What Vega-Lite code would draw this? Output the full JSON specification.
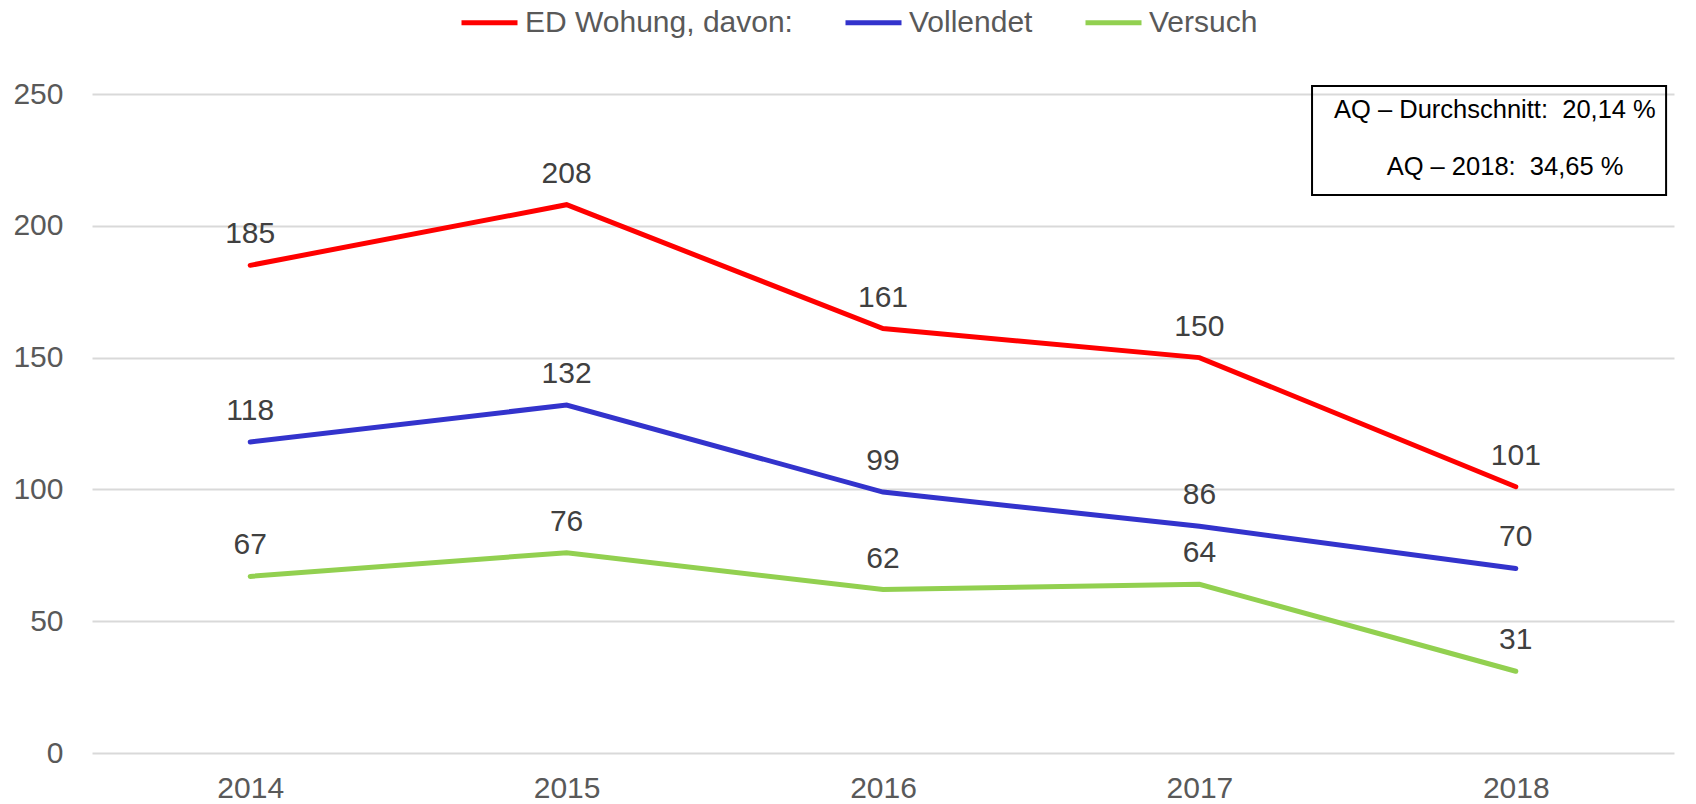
{
  "$schema": "https://vega.github.io/schema/vega-lite/v6.json",
  "width": 1582,
  "height": 659,
  "autosize": {"type": "none"},
  "padding": {"left": 92, "top": 94, "right": 22, "bottom": 51},
  "background": "white",
  "config": {
    "view": {"stroke": null},
    "font": "Liberation Sans"
  },
  "datasets": {
    "main": [
      {"year": 2014, "series": "ED Wohung, davon:", "value": 185},
      {"year": 2015, "series": "ED Wohung, davon:", "value": 208},
      {"year": 2016, "series": "ED Wohung, davon:", "value": 161},
      {"year": 2017, "series": "ED Wohung, davon:", "value": 150},
      {"year": 2018, "series": "ED Wohung, davon:", "value": 101},
      {"year": 2014, "series": "Vollendet", "value": 118},
      {"year": 2015, "series": "Vollendet", "value": 132},
      {"year": 2016, "series": "Vollendet", "value": 99},
      {"year": 2017, "series": "Vollendet", "value": 86},
      {"year": 2018, "series": "Vollendet", "value": 70},
      {"year": 2014, "series": "Versuch", "value": 67},
      {"year": 2015, "series": "Versuch", "value": 76},
      {"year": 2016, "series": "Versuch", "value": 62},
      {"year": 2017, "series": "Versuch", "value": 64},
      {"year": 2018, "series": "Versuch", "value": 31}
    ],
    "box": [
      {"x1": 2017.356, "x2": 2018.475, "y1": 211.7, "y2": 253.0}
    ],
    "boxtext": [
      {"x": 2017.934, "y": 243.9, "label": "AQ – Durchschnitt:\u00a0\u00a020,14\u00a0%"},
      {"x": 2017.966, "y": 222.3, "label": "AQ – 2018:\u00a0\u00a034,65\u00a0%"}
    ]
  },
  "layer": [
    {
      "data": {"name": "main"},
      "mark": {"type": "line", "strokeWidth": 5, "strokeCap": "round"},
      "encoding": {
        "x": {
          "field": "year", "type": "quantitative",
          "scale": {"domain": [2013.5, 2018.5], "nice": false, "zero": false},
          "axis": {
            "title": null, "values": [2014, 2015, 2016, 2017, 2018], "format": "d",
            "grid": false, "ticks": false, "domain": false,
            "labelFontSize": 30, "labelColor": "#595959", "labelPadding": 20, "labelFont": "Liberation Sans"
          }
        },
        "y": {
          "field": "value", "type": "quantitative",
          "scale": {"domain": [0, 250], "nice": false},
          "axis": {
            "title": null, "values": [0, 50, 100, 150, 200, 250],
            "grid": true, "gridColor": "#d9d9d9", "gridWidth": 2,
            "ticks": false, "domain": false,
            "labelFontSize": 30, "labelColor": "#595959", "labelPadding": 29, "labelFont": "Liberation Sans"
          }
        },
        "color": {
          "field": "series", "type": "nominal",
          "scale": {
            "domain": ["ED Wohung, davon:", "Vollendet", "Versuch"],
            "range": ["#ff0000", "#3333cc", "#92d050"]
          },
          "legend": {
            "title": null, "orient": "none", "direction": "horizontal",
            "legendX": 367, "legendY": -102,
            "symbolType": "stroke", "symbolSize": 3136, "symbolStrokeWidth": 5,
            "labelFontSize": 30, "labelColor": "#595959", "labelFont": "Liberation Sans",
            "labelLimit": 0, "labelOffset": 5, "columnPadding": 42, "symbolOffset": 0
          }
        }
      }
    },
    {
      "data": {"name": "main"},
      "mark": {"type": "text", "fontSize": 30, "color": "#404040", "baseline": "alphabetic", "dy": -22, "font": "Liberation Sans"},
      "encoding": {
        "x": {"field": "year", "type": "quantitative"},
        "y": {"field": "value", "type": "quantitative"},
        "text": {"field": "value", "type": "quantitative"}
      }
    },
    {
      "data": {"name": "box"},
      "mark": {"type": "rect", "fill": null, "fillOpacity": 0, "stroke": "black", "strokeWidth": 2},
      "encoding": {
        "x": {"field": "x1", "type": "quantitative"},
        "x2": {"field": "x2"},
        "y": {"field": "y1", "type": "quantitative"},
        "y2": {"field": "y2"}
      }
    },
    {
      "data": {"name": "boxtext"},
      "mark": {"type": "text", "fontSize": 25.5, "color": "black", "baseline": "middle", "align": "center", "font": "Liberation Sans"},
      "encoding": {
        "x": {"field": "x", "type": "quantitative"},
        "y": {"field": "y", "type": "quantitative"},
        "text": {"field": "label"}
      }
    }
  ]
}
